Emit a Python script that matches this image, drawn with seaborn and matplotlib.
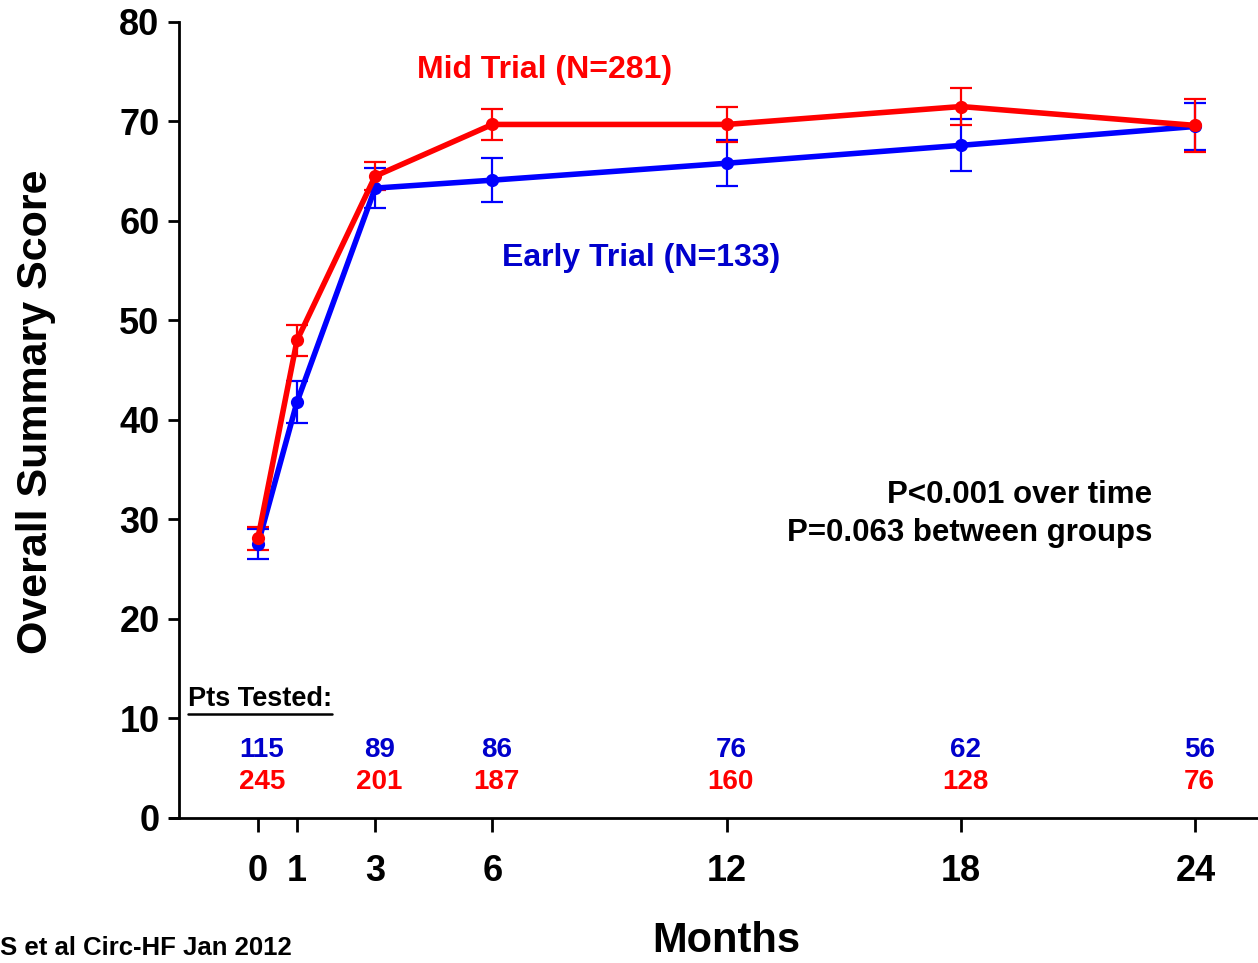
import numpy as np
import pandas as pd
import seaborn as sns
import matplotlib.pyplot as plt

months = [0, 1, 3, 6, 12, 18, 24]
early_score = [27.5, 41.8, 63.3, 64.1, 65.8, 67.6, 69.5]
early_err = [1.5, 2.1, 2.0, 2.2, 2.3, 2.6, 2.4]
mid_score = [28.1, 48.0, 64.5, 69.7, 69.7, 71.5, 69.6]
mid_err = [1.15, 1.55, 1.4, 1.55, 1.8, 1.9, 2.7]
early_n = [115, 89, 86, 76, 62, 56]
mid_n = [245, 201, 187, 160, 128, 76]
n_months = [0, 3, 6, 12, 18, 24]

RED = "#FF0000"
BLUE = "#0000FF"
BLUE_TXT = "#0000CC"

df = pd.DataFrame({
    "month": months * 2,
    "score": early_score + mid_score,
    "group": ["Early"] * len(months) + ["Mid"] * len(months),
})

sns.set_style("ticks")
plt.rcParams['font.family'] = ['Liberation Sans', 'DejaVu Sans']
plt.rcParams['font.weight'] = 'bold'
plt.rcParams['text.color'] = 'black'
plt.rcParams['axes.labelcolor'] = 'black'
plt.rcParams['xtick.color'] = 'black'
plt.rcParams['ytick.color'] = 'black'
plt.rcParams['axes.edgecolor'] = 'black'

fig = plt.figure(figsize=(12.58, 9.63), dpi=100)
ax = fig.add_axes([0.1423, 0.1506, 0.8577, 0.8266])

# error bars first, under the lines
ax.errorbar(months, early_score, yerr=early_err, fmt='none', ecolor=BLUE,
            elinewidth=1.6, capsize=8, capthick=1.6, zorder=2)
ax.errorbar(months, mid_score, yerr=mid_err, fmt='none', ecolor=RED,
            elinewidth=1.6, capsize=8, capthick=1.6, zorder=3)

sns.lineplot(data=df, x="month", y="score", hue="group",
             palette={"Early": BLUE, "Mid": RED}, marker='o', markersize=9.5,
             markeredgewidth=0, linewidth=4.0, legend=False, ax=ax, zorder=4)

ax.set_xlim(-2.02, 25.6)
ax.set_ylim(0, 80)
ax.set_xticks(months)
ax.set_yticks(range(0, 81, 10))
ax.set_xticklabels([str(m) for m in months], fontsize=26, fontweight='bold')
ax.set_yticklabels([str(v) for v in range(0, 81, 10)], fontsize=26, fontweight='bold')
ax.tick_params(axis='x', length=10, width=2, pad=16)
ax.tick_params(axis='y', length=8, width=2, pad=6)
for s in ['top', 'right']:
    ax.spines[s].set_visible(False)
for s in ['left', 'bottom']:
    ax.spines[s].set_linewidth(2)
ax.spines['bottom'].set_bounds(-2.25, 25.6)

ax.set_xlabel("Months", fontsize=30, fontweight='bold', va='center')
ax.xaxis.set_label_coords(0.507, -0.155)
ax.set_ylabel("Overall Summary Score", fontsize=31, fontweight='bold', va='center')
ax.yaxis.set_label_coords(-0.133, 0.51)

ax.text(7.35, 75.2, "Mid Trial (N=281)", color=RED, fontsize=23,
        fontweight='bold', ha='center', va='center')
ax.text(9.8, 56.3, "Early Trial (N=133)", color=BLUE_TXT, fontsize=23,
        fontweight='bold', ha='center', va='center')
ax.text(22.9, 32.5, "P<0.001 over time", fontsize=22.5, fontweight='bold',
        ha='right', va='center')
ax.text(22.9, 28.6, "P=0.063 between groups", fontsize=22.5, fontweight='bold',
        ha='right', va='center')

pts = ax.text(-1.8, 12.0, "Pts Tested:", fontsize=19.5, fontweight='bold',
              ha='left', va='center')
fig.canvas.draw()
bb = pts.get_window_extent().transformed(ax.transData.inverted())
ax.plot([bb.x0, bb.x1], [bb.y0 - 0.25, bb.y0 - 0.25], color='black', lw=1.8,
        clip_on=False)

for m, e, r in zip(n_months, early_n, mid_n):
    ax.annotate(str(e), (m, 6.8), xytext=(3, 0), textcoords='offset points',
                color=BLUE_TXT, fontsize=20, fontweight='bold', ha='center', va='center')
    ax.annotate(str(r), (m, 3.6), xytext=(3, 0), textcoords='offset points',
                color=RED, fontsize=20, fontweight='bold', ha='center', va='center')

fig.text(0.0, 0.016, "S et al Circ-HF Jan 2012", fontsize=18.5, fontweight='bold',
         ha='left', va='center')

fig.savefig("out.png", dpi=100)
